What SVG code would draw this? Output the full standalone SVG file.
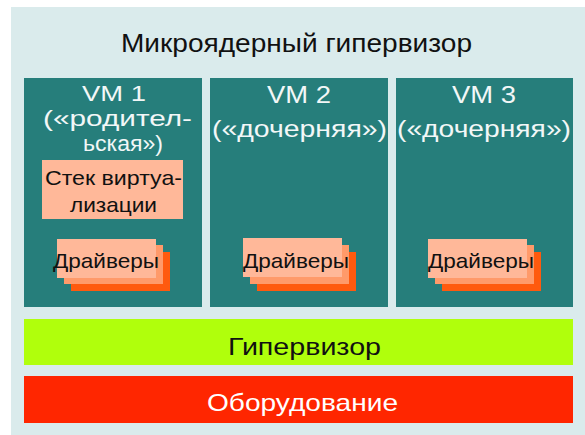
<svg xmlns="http://www.w3.org/2000/svg" width="585" height="435" viewBox="0 0 585 435">
<style>
text{font-family:"Liberation Sans",Arial,sans-serif}
.vm{fill:#267E7B}
.wt{fill:#F2F7F7;font-size:24px}
.w1{fill:#F2F7F7;font-size:22px}
.bt{fill:#111;font-size:21px}
.f1{fill:#FFB899}
.f2{fill:#FF9A6A}
.f3{fill:#FF5A0E}
</style>
<rect x="0" y="0" width="585" height="435" fill="#FFFFFF"/>
<rect x="11" y="7" width="574" height="428" fill="#DAEBEC"/>
<g id="title">
<text x="121" y="52" font-size="26" fill="#111" textLength="351" lengthAdjust="spacingAndGlyphs">Микроядерный гипервизор</text>
</g>
<g id="vm1">
<rect class="vm" x="24" y="78" width="178" height="229"/>
<text class="w1" x="82" y="101" textLength="64" lengthAdjust="spacingAndGlyphs">VM 1</text>
<text class="w1" x="43" y="126" textLength="149" lengthAdjust="spacingAndGlyphs">(«родител-</text>
<text class="w1" x="83" y="151" textLength="80" lengthAdjust="spacingAndGlyphs">ьская»)</text>
</g>
<g id="stack">
<rect class="f1" x="42" y="160" width="141" height="59"/>
<text class="bt" x="45" y="185" textLength="137" lengthAdjust="spacingAndGlyphs">Стек виртуа-</text>
<text class="bt" x="70" y="212" textLength="87" lengthAdjust="spacingAndGlyphs">лизации</text>
</g>
<g id="drivers1">
<rect class="f3" x="71" y="252" width="99" height="39"/>
<rect class="f2" x="64" y="245" width="99" height="39"/>
<rect class="f1" x="57" y="239" width="99" height="39"/>
<text class="bt" x="53" y="268" textLength="106" lengthAdjust="spacingAndGlyphs">Драйверы</text>
</g>
<g id="vm2">
<rect class="vm" x="210" y="78" width="178" height="229"/>
<text class="wt" x="267" y="103" textLength="64" lengthAdjust="spacingAndGlyphs">VM 2</text>
<text class="wt" x="212" y="137" textLength="175" lengthAdjust="spacingAndGlyphs">(«дочерняя»)</text>
</g>
<g id="drivers2">
<rect class="f3" x="257" y="252" width="99" height="39"/>
<rect class="f2" x="250" y="245" width="99" height="39"/>
<rect class="f1" x="243" y="238" width="99" height="39"/>
<text class="bt" x="243" y="268" textLength="106" lengthAdjust="spacingAndGlyphs">Драйверы</text>
</g>
<g id="vm3">
<rect class="vm" x="396" y="78" width="177" height="229"/>
<text class="wt" x="452" y="103" textLength="64" lengthAdjust="spacingAndGlyphs">VM 3</text>
<text class="wt" x="397" y="137" textLength="174" lengthAdjust="spacingAndGlyphs">(«дочерняя»)</text>
</g>
<g id="drivers3">
<rect class="f3" x="442" y="252" width="99" height="39"/>
<rect class="f2" x="435" y="245" width="99" height="39"/>
<rect class="f1" x="428" y="239" width="99" height="39"/>
<text class="bt" x="428" y="268" textLength="106" lengthAdjust="spacingAndGlyphs">Драйверы</text>
</g>
<g id="hypervisor">
<rect x="24" y="319" width="549" height="46" fill="#B0FF0C"/>
<text x="228" y="355" font-size="24" fill="#111" textLength="153" lengthAdjust="spacingAndGlyphs">Гипервизор</text>
</g>
<g id="hardware">
<rect x="24" y="376" width="549" height="47" fill="#FF2600"/>
<text x="207" y="411" font-size="24" fill="#FFFFFF" textLength="191" lengthAdjust="spacingAndGlyphs">Оборудование</text>
</g>
<g id="connectors"></g>
</svg>
